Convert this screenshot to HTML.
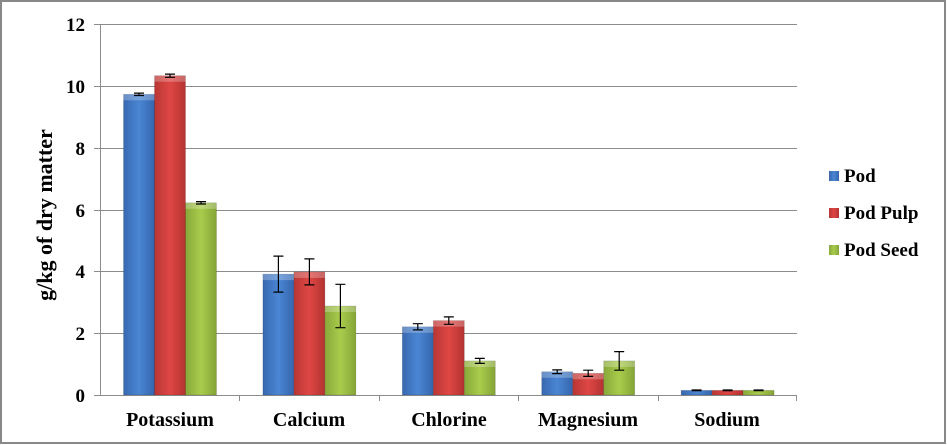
<!DOCTYPE html>
<html><head><meta charset="utf-8"><style>
html,body{margin:0;padding:0;background:#fff}
svg{display:block}
text{font-family:"Liberation Serif",serif;font-weight:bold;fill:#000}
</style></head><body>
<svg width="947" height="445" viewBox="0 0 947 445" xmlns="http://www.w3.org/2000/svg">
<defs>
<linearGradient id="gb" x1="0" x2="1" y1="0" y2="0"><stop offset="0" stop-color="#3868b0"/><stop offset="0.5" stop-color="#4a86d4"/><stop offset="1" stop-color="#3566ad"/></linearGradient>
<linearGradient id="gr" x1="0" x2="1" y1="0" y2="0"><stop offset="0" stop-color="#b83634"/><stop offset="0.5" stop-color="#de4744"/><stop offset="1" stop-color="#b33331"/></linearGradient>
<linearGradient id="gg" x1="0" x2="1" y1="0" y2="0"><stop offset="0" stop-color="#88a83a"/><stop offset="0.5" stop-color="#a9cc4c"/><stop offset="1" stop-color="#84a437"/></linearGradient>
</defs>
<rect x="1" y="1" width="944" height="442" fill="#fff" stroke="#888" stroke-width="2"/>
<g stroke="#8c8c8c" stroke-width="1">
<line x1="100" y1="24.5" x2="797" y2="24.5"/>
<line x1="100" y1="86.5" x2="797" y2="86.5"/>
<line x1="100" y1="148.5" x2="797" y2="148.5"/>
<line x1="100" y1="210.5" x2="797" y2="210.5"/>
<line x1="100" y1="271.5" x2="797" y2="271.5"/>
<line x1="100" y1="333.5" x2="797" y2="333.5"/>
<line x1="100.5" y1="24" x2="100.5" y2="395"/>
<line x1="94" y1="395.5" x2="797" y2="395.5"/>
<line x1="94" y1="24.5" x2="100" y2="24.5"/><line x1="94" y1="86.5" x2="100" y2="86.5"/><line x1="94" y1="148.5" x2="100" y2="148.5"/><line x1="94" y1="210.5" x2="100" y2="210.5"/><line x1="94" y1="271.5" x2="100" y2="271.5"/><line x1="94" y1="333.5" x2="100" y2="333.5"/>
<line x1="239.5" y1="395" x2="239.5" y2="401"/><line x1="379.5" y1="395" x2="379.5" y2="401"/><line x1="518.5" y1="395" x2="518.5" y2="401"/><line x1="658.5" y1="395" x2="658.5" y2="401"/><line x1="796.5" y1="395" x2="796.5" y2="401"/>
</g>
<g stroke="rgba(0,0,0,0.15)" stroke-width="0.8">
<rect x="123.5" y="94.3" width="31" height="300.7" fill="url(#gb)"/>
<rect x="154.5" y="75.7" width="31" height="319.3" fill="url(#gr)"/>
<rect x="185.5" y="202.8" width="31" height="192.2" fill="url(#gg)"/>
<rect x="262.9" y="274.1" width="31" height="120.9" fill="url(#gb)"/>
<rect x="293.9" y="271.9" width="31" height="123.1" fill="url(#gr)"/>
<rect x="324.9" y="306" width="31" height="89" fill="url(#gg)"/>
<rect x="402.3" y="326.8" width="31" height="68.2" fill="url(#gb)"/>
<rect x="433.3" y="320.6" width="31" height="74.4" fill="url(#gr)"/>
<rect x="464.3" y="360.9" width="31" height="34.1" fill="url(#gg)"/>
<rect x="541.7" y="371.75" width="31" height="23.25" fill="url(#gb)"/>
<rect x="572.7" y="373.3" width="31" height="21.7" fill="url(#gr)"/>
<rect x="603.7" y="360.9" width="31" height="34.1" fill="url(#gg)"/>
<rect x="681.1" y="390.35" width="31" height="4.65" fill="url(#gb)"/>
<rect x="712.1" y="390.35" width="31" height="4.65" fill="url(#gr)"/>
<rect x="743.1" y="390.35" width="31" height="4.65" fill="url(#gg)"/>
</g>
<g fill="rgba(255,255,255,0.25)">
<rect x="123.5" y="94.3" width="31" height="6"/><rect x="154.5" y="75.7" width="31" height="6"/><rect x="185.5" y="202.8" width="31" height="6"/>
<rect x="262.9" y="274.1" width="31" height="6"/><rect x="293.9" y="271.9" width="31" height="6"/><rect x="324.9" y="306" width="31" height="6"/>
<rect x="402.3" y="326.8" width="31" height="6"/><rect x="433.3" y="320.6" width="31" height="6"/><rect x="464.3" y="360.9" width="31" height="6"/>
<rect x="541.7" y="371.75" width="31" height="6"/><rect x="572.7" y="373.3" width="31" height="6"/><rect x="603.7" y="360.9" width="31" height="6"/>
</g>
<g stroke="#000" stroke-width="1.2" fill="none">
<path d="M139 93.1V95.5M134 93.1H144M134 95.5H144"/>
<path d="M170 74.1V77.3M165 74.1H175M165 77.3H175"/>
<path d="M201 201.6V204M196 201.6H206M196 204H206"/>
<path d="M278.4 256.1V292.1M273.4 256.1H283.4M273.4 292.1H283.4"/>
<path d="M309.4 258.9V284.9M304.4 258.9H314.4M304.4 284.9H314.4"/>
<path d="M340.4 284.3V327.7M335.4 284.3H345.4M335.4 327.7H345.4"/>
<path d="M417.8 323.7V329.9M412.8 323.7H422.8M412.8 329.9H422.8"/>
<path d="M448.8 316.9V324.3M443.8 316.9H453.8M443.8 324.3H453.8"/>
<path d="M479.8 358.4V363.4M474.8 358.4H484.8M474.8 363.4H484.8"/>
<path d="M557.2 369.9V373.6M552.2 369.9H562.2M552.2 373.6H562.2"/>
<path d="M588.2 370.2V376.4M583.2 370.2H593.2M583.2 376.4H593.2"/>
<path d="M619.2 351.6V370.2M614.2 351.6H624.2M614.2 370.2H624.2"/>
<path d="M696.6 390V390.7M691.6 390H701.6M691.6 390.7H701.6"/>
<path d="M727.6 390V390.7M722.6 390H732.6M722.6 390.7H732.6"/>
<path d="M758.6 390V390.7M753.6 390H763.6M753.6 390.7H763.6"/>
</g>
<g font-size="19" text-anchor="end">
<text x="85" y="31">12</text><text x="85" y="93">10</text><text x="85" y="155">8</text><text x="85" y="217">6</text><text x="85" y="278">4</text><text x="85" y="340">2</text><text x="85" y="402">0</text>
</g>
<g font-size="20" text-anchor="middle">
<text x="170" y="426">Potassium</text><text x="309" y="426">Calcium</text><text x="449" y="426">Chlorine</text><text x="588" y="426">Magnesium</text><text x="727" y="426">Sodium</text>
</g>
<text font-size="22" transform="translate(52,215) rotate(-90)" text-anchor="middle">g/kg of dry matter</text>
<rect x="829" y="171" width="10" height="10" fill="url(#gb)"/>
<rect x="829" y="208" width="10" height="10" fill="url(#gr)"/>
<rect x="829" y="245" width="10" height="10" fill="url(#gg)"/>
<g font-size="19"><text x="844" y="182">Pod</text><text x="844" y="219">Pod Pulp</text><text x="844" y="256">Pod Seed</text></g>
</svg>
</body></html>
